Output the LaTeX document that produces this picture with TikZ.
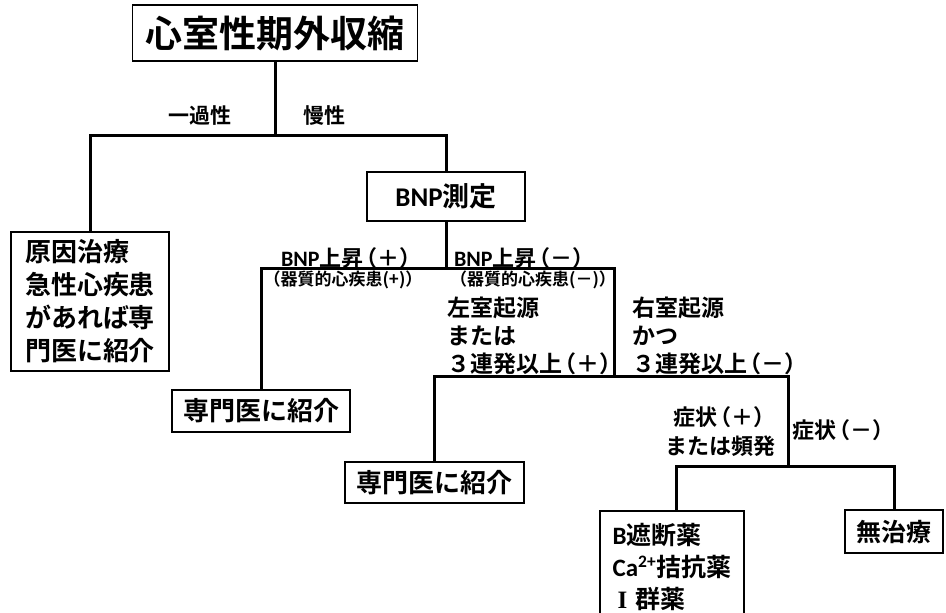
\documentclass[tikz,border=0pt]{standalone}
\usepackage{fontspec}
\setmainfont{Noto Sans CJK JP}[BoldFont={Noto Sans CJK JP Bold}]
\newfontfamily\lat{Carlito}
\newfontfamily\ser{Liberation Serif}
\newcommand{\lp}{\makebox[0.62em][r]{（}}
\newcommand{\rp}{\makebox[0.62em][l]{）}}
\tikzset{
  box/.style={draw, line width=1.5pt, inner sep=0pt},
  conn/.style={line width=3pt},
  lbl/.style={inner sep=0pt},
}
\newcommand{\fs}[2]{\bfseries\fontsize{#1}{#2}\selectfont}
\begin{document}
\begin{tikzpicture}[x=1pt,y=-1pt]
\useasboundingbox (0,0) rectangle (946,613);
% boxes
\node[box, minimum width=285pt, minimum height=56pt, font=\fs{37}{40}] (title) at (275,33) {心室性期外収縮};
\node[box, minimum width=158pt, minimum height=139pt, align=left, font=\fs{26}{33}] (cause) at (90,301.5) {原因治療\\急性心疾患\\があれば専\\門医に紹介};
\node[box, minimum width=158pt, minimum height=49pt, font=\fs{27}{30}] (bnp) at (446,196.5) {{\lat\bfseries BNP}測定};
\node[box, minimum width=178pt, minimum height=42pt, font=\fs{26}{30}] (ref1) at (261,411) {専門医に紹介};
\node[box, minimum width=179pt, minimum height=41pt, font=\fs{26}{30}] (ref2) at (434.5,482.5) {専門医に紹介};
\node[box, anchor=north, minimum width=144pt, minimum height=112pt, align=left, font=\fs{25}{32}] (drug) at (672,510) {{\lat\bfseries B}遮断薬\\{\lat\bfseries Ca\textsuperscript{2+}}拮抗薬\\\hspace{5pt}{\ser\bfseries I}\hspace{8pt}群薬};
\node[box, minimum width=98pt, minimum height=43pt, font=\fs{25}{30}] (nt) at (894,531.5) {無治療};
% labels
\node[lbl, font=\fs{21}{24}] (l1) at (200,116) {一過性};
\node[lbl, font=\fs{21}{24}] (l2) at (324,116) {慢性};
\node[lbl, font=\fs{22}{24}] (l3) at (347,258) {{\lat\bfseries BNP}上昇\lp＋\rp};
\node[lbl, font=\fs{22}{24}] (l4) at (520,258) {{\lat\bfseries BNP}上昇\lp－\rp};
\node[lbl, font=\fs{17}{20}] (l5) at (343,280) {\lp 器質的心疾患(+)\rp};
\node[lbl, font=\fs{17}{20}] (l6) at (533,280) {\lp 器質的心疾患(－)\rp};
\node[lbl, anchor=west, align=left, font=\fs{23}{28}] (l7) at (447,336) {左室起源\\または\\３連発以上\lp＋\rp};
\node[lbl, anchor=west, align=left, font=\fs{23}{28}] (l8) at (632,336) {右室起源\\かつ\\３連発以上\lp－\rp};
\node[lbl, align=center, font=\fs{22}{29}] (l9) at (720,432) {症状\lp＋\rp\\または頻発};
\node[lbl, font=\fs{22}{26}] (l10) at (839,430) {症状\lp－\rp};
% junctions
\coordinate (a) at (275,135);
\coordinate (aL) at (90,135);
\coordinate (aR) at (446,135);
\coordinate (b) at (446,268);
\coordinate (bL) at (261,268);
\coordinate (bR) at (614,268);
\coordinate (c) at (614,376);
\coordinate (cL) at (434.5,376);
\coordinate (cR) at (788,376);
\coordinate (d) at (788,466);
\coordinate (dL) at (676,466);
\coordinate (dR) at (894,466);
% connectors
\draw[conn] (title.south) -- (a);
\draw[conn] (cause.north) -- (aL) -- (aR) -- (bnp.north);
\draw[conn] (bnp.south) -- (b);
\draw[conn] (ref1.north) -- (bL) -- (bR) -- (c);
\draw[conn] (ref2.north) -- (cL) -- (cR) -- (d);
\draw[conn] (dL |- drug.north) -- (dL) -- (dR) -- (nt.north);
\end{tikzpicture}
\end{document}
